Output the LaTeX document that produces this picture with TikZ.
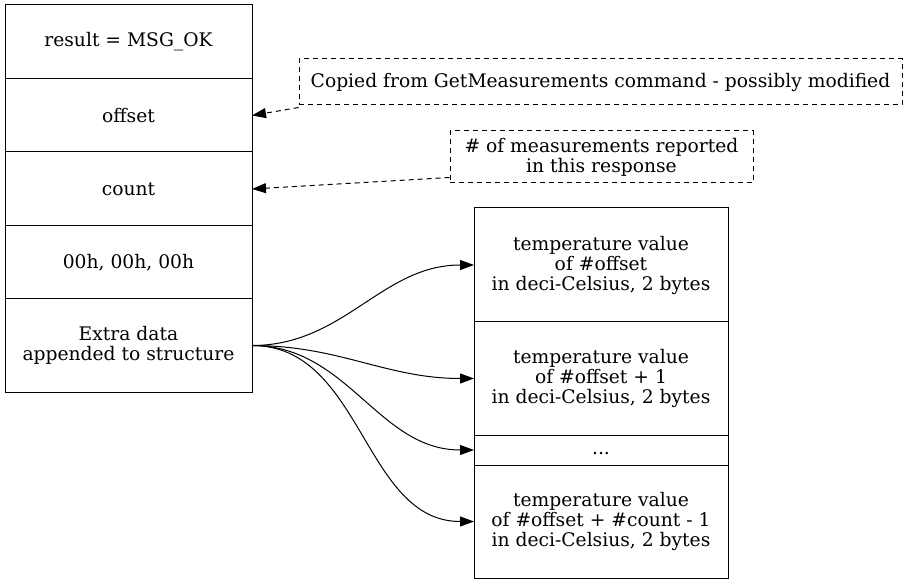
\documentclass[tikz,border=0pt]{standalone}
\usepackage{fontspec}
\setmainfont{DejaVu Serif}
\usetikzlibrary{positioning,arrows.meta}
\tikzset{
cell/.style={draw, line width=1pt, inner sep=0pt, outer sep=0pt, align=center},
lcell/.style={cell, minimum width=247},
rcell/.style={cell, minimum width=254},
note/.style={draw, line width=1pt, dash pattern=on 5pt off 4pt, inner sep=0pt, align=center},
link/.style={->, line width=1pt}
}

\begin{document}
\begin{tikzpicture}[x=1pt, y=-1pt, font=\fontsize{18.7}{20}\selectfont,
  >={Triangle[length=14pt,width=10pt]}]
\useasboundingbox (0,0) rectangle (908,585);

% response structure
\node[lcell, minimum height=74] (res) at (128.5,42) {result = MSG\_OK};
\node[lcell, minimum height=73, below=0pt of res] (offset) {offset};
\node[lcell, minimum height=74, below=0pt of offset] (count) {count};
\node[lcell, minimum height=73, below=0pt of count] (pad) {00h, 00h, 00h};
\node[lcell, minimum height=93, below=0pt of pad] (extra) {Extra data\\appended to structure};

% extra data
\node[rcell, minimum height=114] (t1) at (601,265) {temperature value\\of \#offset\\in deci-Celsius, 2 bytes};
\node[rcell, minimum height=113, below=0pt of t1] (t2) {temperature value\\of \#offset + 1\\in deci-Celsius, 2 bytes};
\node[rcell, minimum height=30, below=0pt of t2] (dots) {\strut...};
\node[rcell, minimum height=113, below=0pt of dots] (t3) {temperature value\\of \#offset + \#count - 1\\in deci-Celsius, 2 bytes};

% comments
\node[note, minimum width=603, minimum height=46] (note1) at (600.5,82) {Copied from GetMeasurements command - possibly modified};
\node[note, minimum width=303, minimum height=52] (note2) at (601.5,157) {\# of measurements reported\\in this response};

\draw[link, dash pattern=on 5pt off 4pt] ([yshift=-2pt]note1.south west) -- (offset.east);
\draw[link, dash pattern=on 5pt off 4pt] ([yshift=6pt]note2.south west) -- (count.east);
\foreach \t in {t1, t2, dots, t3}{
	\draw[link] (extra.east) to[out=0, in=180] (\t.west);
}
\end{tikzpicture}
\end{document}
